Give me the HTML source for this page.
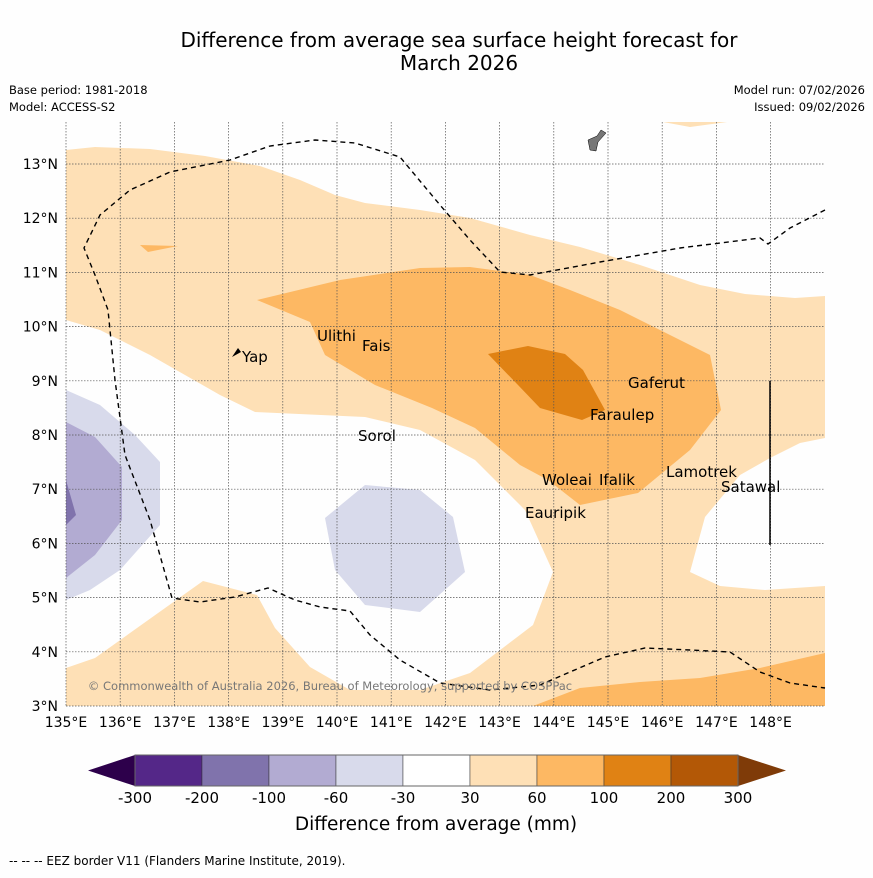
<!DOCTYPE html>
<html><head><meta charset="utf-8"><style>
body{margin:0;background:#fefefe;font-family:"Liberation Sans","DejaVu Sans",sans-serif;}
svg text{font-family:"DejaVu Sans","Liberation Sans",sans-serif;}
</style></head><body>
<svg id="s" width="873" height="873" viewBox="0 0 873 873">
<rect width="873" height="873" fill="#fefefe"/>
<text x="459" y="47" font-size="20" text-anchor="middle">Difference from average sea surface height forecast for</text>
<text x="459" y="70" font-size="20" text-anchor="middle">March 2026</text>
<text x="9" y="94" font-size="11.5">Base period: 1981-2018</text>
<text x="9" y="111" font-size="11.5">Model: ACCESS-S2</text>
<text x="865" y="94" font-size="11.5" text-anchor="end">Model run: 07/02/2026</text>
<text x="865" y="111" font-size="11.5" text-anchor="end">Issued: 09/02/2026</text>
<g id="map"></g>
<g id="cbar"></g>
<text x="436" y="830" font-size="18.5" text-anchor="middle">Difference from average (mm)</text>
<text x="9" y="865" font-size="12">--  --  -- EEZ border V11 (Flanders Marine Institute, 2019).</text>
</svg>
<script>
const lonTicks=[135,136,137,138,139,140,141,142,143,144,145,146,147,148];
const latTicks=[3,4,5,6,7,8,9,10,11,12,13];
const cbBounds=[-300,-200,-100,-60,-30,30,60,100,200,300];
const cbColors=["#542788","#8073ac","#b2abd2","#d8daeb","#ffffff","#fee0b6","#fdb863","#e08214","#b35806"];
const polyLight=[[66,122],[825,122],[825,706],[66,706]];
const polyWhiteTopL=[[66,122],[66,150],[95,147],[150,149],[205,156],[260,166],[300,180],[335,195],[365,203],[420,210],[470,218],[530,235],[580,247],[640,265],[700,285],[745,294],[795,298],[825,296],[825,122],[727,122],[690,127],[663,122]];
const polyWhiteLeft=[[66,320],[100,330],[150,355],[220,395],[255,412],[365,417],[420,430],[475,460],[525,510],[553,572],[533,625],[470,673],[420,690],[350,690],[310,667],[275,628],[257,595],[203,581],[95,658],[66,668]];
const polyWhiteRight=[[825,438],[800,443],[770,458],[740,475],[705,517],[690,572],[720,586],[765,590],[825,586]];
const polyP1=[[66,390],[100,405],[135,435],[160,462],[160,525],[120,570],[90,590],[66,600]];
const polyP2=[[66,422],[95,437],[122,467],[122,520],[95,555],[66,578]];
const polyP3=[[66,480],[76,515],[66,525]];
const polyPmid=[[325,518],[365,485],[420,490],[453,517],[465,572],[420,612],[365,605],[335,570]];
const polyO1=[[257,300],[340,280],[420,268],[470,267],[530,275],[570,290],[620,310],[670,335],[710,355],[721,410],[690,450],[638,493],[580,505],[548,480],[520,465],[475,428],[432,408],[375,385],[325,355],[310,322]];
const polyO1b=[[533,706],[580,688],[640,682],[700,678],[760,668],[825,653],[825,706]];
const polyO1c=[[140,245],[178,246],[148,252]];
const polyO2=[[488,354],[528,346],[565,354],[583,370],[605,410],[582,420],[540,408],[518,385]];
const eezA=[[825,210],[790,228],[768,244],[760,238],[680,248],[600,262],[530,275],[500,272],[470,240],[440,205],[400,157],[355,143],[315,140],[270,146],[230,160],[170,172],[130,190],[100,215],[84,248],[95,275],[108,310],[115,380],[125,455],[150,520],[172,598],[200,602],[235,597],[268,588],[295,600],[320,607],[350,611],[370,635],[400,660],[440,683],[490,690],[540,685],[570,672],[605,657],[645,648],[690,650],[730,652],[760,672],[790,683],[825,688]];
const places=[["Yap",242,362],["Ulithi",317,341],["Fais",362,351],["Sorol",358,441],["Gaferut",628,388],["Faraulep",590,420],["Woleai",542,485],["Ifalik",599,485],["Eauripik",525,518],["Lamotrek",666,477],["Satawal",721,492]];
const NS="http://www.w3.org/2000/svg";
const X=lon=>66+(lon-135)*54.2, Y=lat=>706-(lat-3)*54.2;
const map=document.getElementById('map');
function mk(t,a,p){const e=document.createElementNS(NS,t);for(const k in a)e.setAttribute(k,a[k]);(p||map).appendChild(e);return e;}
function poly(pts,fill,name,extra){const e=mk('polygon',Object.assign({points:pts.map(p=>p.join(',')).join(' '),fill:fill},extra||{}));

}
poly(polyLight,'#fee0b6','contour-30-60');
poly(polyWhiteTopL,'#fefefe','neutral-north');
poly(polyWhiteLeft,'#fefefe','neutral-west');
poly(polyWhiteRight,'#fefefe','neutral-east');
poly(polyP1,'#d8daeb','contour-neg30-neg60');
poly(polyP2,'#b2abd2','contour-neg60-neg100');
poly(polyP3,'#8073ac','contour-neg100-neg200');
poly(polyPmid,'#d8daeb','contour-neg30-central');
poly(polyO1,'#fdb863','contour-60-100');
poly(polyO1b,'#fdb863','contour-60-100-south');
poly(polyO1c,'#fdb863','contour-60-100-small');
poly(polyO2,'#e08214','contour-100-200');
lonTicks.forEach(l=>{const x=X(l);
const g=mk('line',{x1:x,x2:x,y1:122,y2:706,stroke:'#555','stroke-width':0.7,'stroke-dasharray':'1.5,1.5'});


const t=mk('text',{x:x,y:727,'font-size':14,'text-anchor':'middle'});t.textContent=l+'°E';

});
latTicks.forEach(l=>{const y=Y(l);
const g=mk('line',{x1:66,x2:825,y1:y,y2:y,stroke:'#555','stroke-width':0.7,'stroke-dasharray':'1.5,1.5'});


const t=mk('text',{x:58,y:y+5,'font-size':14,'text-anchor':'end'});t.textContent=l+'°N';

});
const eez=mk('polyline',{points:eezA.map(p=>p.join(',')).join(' '),fill:'none',stroke:'#000','stroke-width':1.4,'stroke-dasharray':'5,4'});


const vl=mk('line',{x1:770,x2:770,y1:381,y2:545,stroke:'#000','stroke-width':1.5});


const guam=mk('polygon',{points:'588,140 597,136 601,130 606,133 598,142 596,151 590,150',fill:'#777',stroke:'#000','stroke-width':0.5});


const yap=mk('polygon',{points:'232,357 238,348 241,352',fill:'#000'});


places.forEach(p=>{const t=mk('text',{x:p[1],y:p[2],'font-size':15});t.textContent=p[0];

});
const cp=mk('text',{x:330,y:690,'font-size':11.5,fill:'#777','text-anchor':'middle'});cp.textContent='© Commonwealth of Australia 2026, Bureau of Meteorology, supported by COSPPac';


const cb=document.getElementById('cbar');
const cx0=135,cx1=738,cy=755,ch=31,cw=(cx1-cx0)/cbColors.length;
cbColors.forEach((c,i)=>{const r=mk('rect',{x:cx0+i*cw,y:cy,width:cw,height:ch,fill:c,stroke:'#333','stroke-width':0.5},cb);

});
const lt=mk('polygon',{points:`${cx0},${cy} ${cx0},${cy+ch} 88,${cy+ch/2}`,fill:'#2d004b'},cb);


const rt=mk('polygon',{points:`${cx1},${cy} ${cx1},${cy+ch} 786,${cy+ch/2}`,fill:'#7f3b08'},cb);


const ol=mk('rect',{x:cx0,y:cy,width:cx1-cx0,height:ch,fill:'none',stroke:'#666','stroke-width':1},cb);


cbBounds.forEach((b,i)=>{const t=mk('text',{x:cx0+i*cw,y:803,'font-size':15,'text-anchor':'middle'},cb);t.textContent=b;

});
</script>
</body></html>
